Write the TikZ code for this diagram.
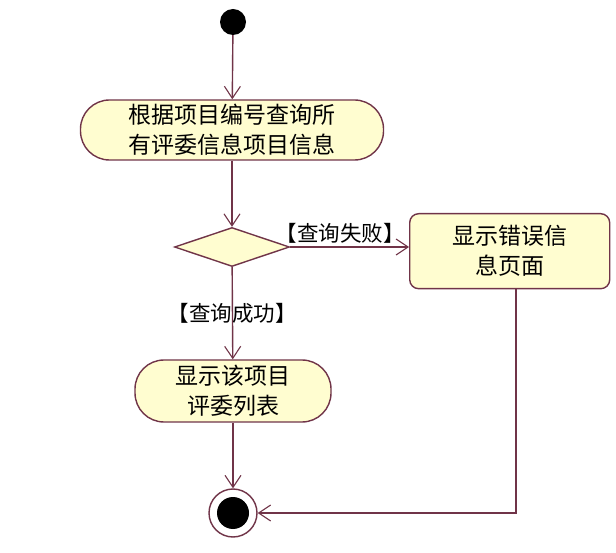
\documentclass[tikz,border=0pt]{standalone}
\usepackage{fontspec}
\setmainfont{Noto Sans CJK SC}
\usetikzlibrary{shapes.geometric,arrows.meta}
\definecolor{edgecol}{RGB}{112,52,72}
\definecolor{boxfill}{RGB}{255,253,208}
\tikzset{
  act/.style={draw=edgecol, line width=1.4pt, fill=boxfill, rounded corners=29pt, align=center,
    font=\fontsize{23}{30}\selectfont, inner sep=0pt},
  box/.style={draw=edgecol, line width=1.4pt, fill=boxfill, rounded corners=9pt, align=center,
    font=\fontsize{23}{30}\selectfont, inner sep=0pt},
  flow/.style={draw=edgecol, line width=1.4pt, -{Straight Barb[length=12pt,width=16pt,line width=1.1pt]}},
  guard/.style={font=\fontsize{21.5}{26}\selectfont, text=black}
}
\begin{document}
\begin{tikzpicture}[x=1pt,y=1pt]
\useasboundingbox (0,0) rectangle (616,552);
\node[circle, fill=black, minimum size=26pt, inner sep=0pt] (start) at (233,530) {};
\node[act, minimum width=303pt, minimum height=60pt] (a1) at (232,422) {根据项目编号查询所\\有评委信息项目信息};
\node[diamond, draw=edgecol, line width=1.4pt, fill=boxfill, minimum width=115pt, minimum height=39pt, inner sep=0pt] (dec) at (232,305) {};
\node[box, minimum width=200pt, minimum height=75pt, anchor=north west] (err) at (409,339) {显示错误信\\息页面};
\node[act, minimum width=196pt, minimum height=62pt] (a3) at (233,161) {显示该项目\\评委列表};
\node[circle, draw=edgecol, line width=1.4pt, fill=white, minimum size=48pt, inner sep=0pt] (end) at (233,39) {};
\fill[black] (end.center) circle (16pt);
\draw[flow] (start) -- (a1);
\draw[flow] (a1) -- (dec);
\draw[flow] (dec) -- node[guard, above, pos=0.42] {【查询失败】} (err.west |- dec);
\draw[flow] (dec) -- node[guard, pos=0.5] {【查询成功】} (a3);
\draw[flow] (a3) -- (end);
\draw[flow] (err.south -| 516,0) |- (end.east);
\end{tikzpicture}
\end{document}
